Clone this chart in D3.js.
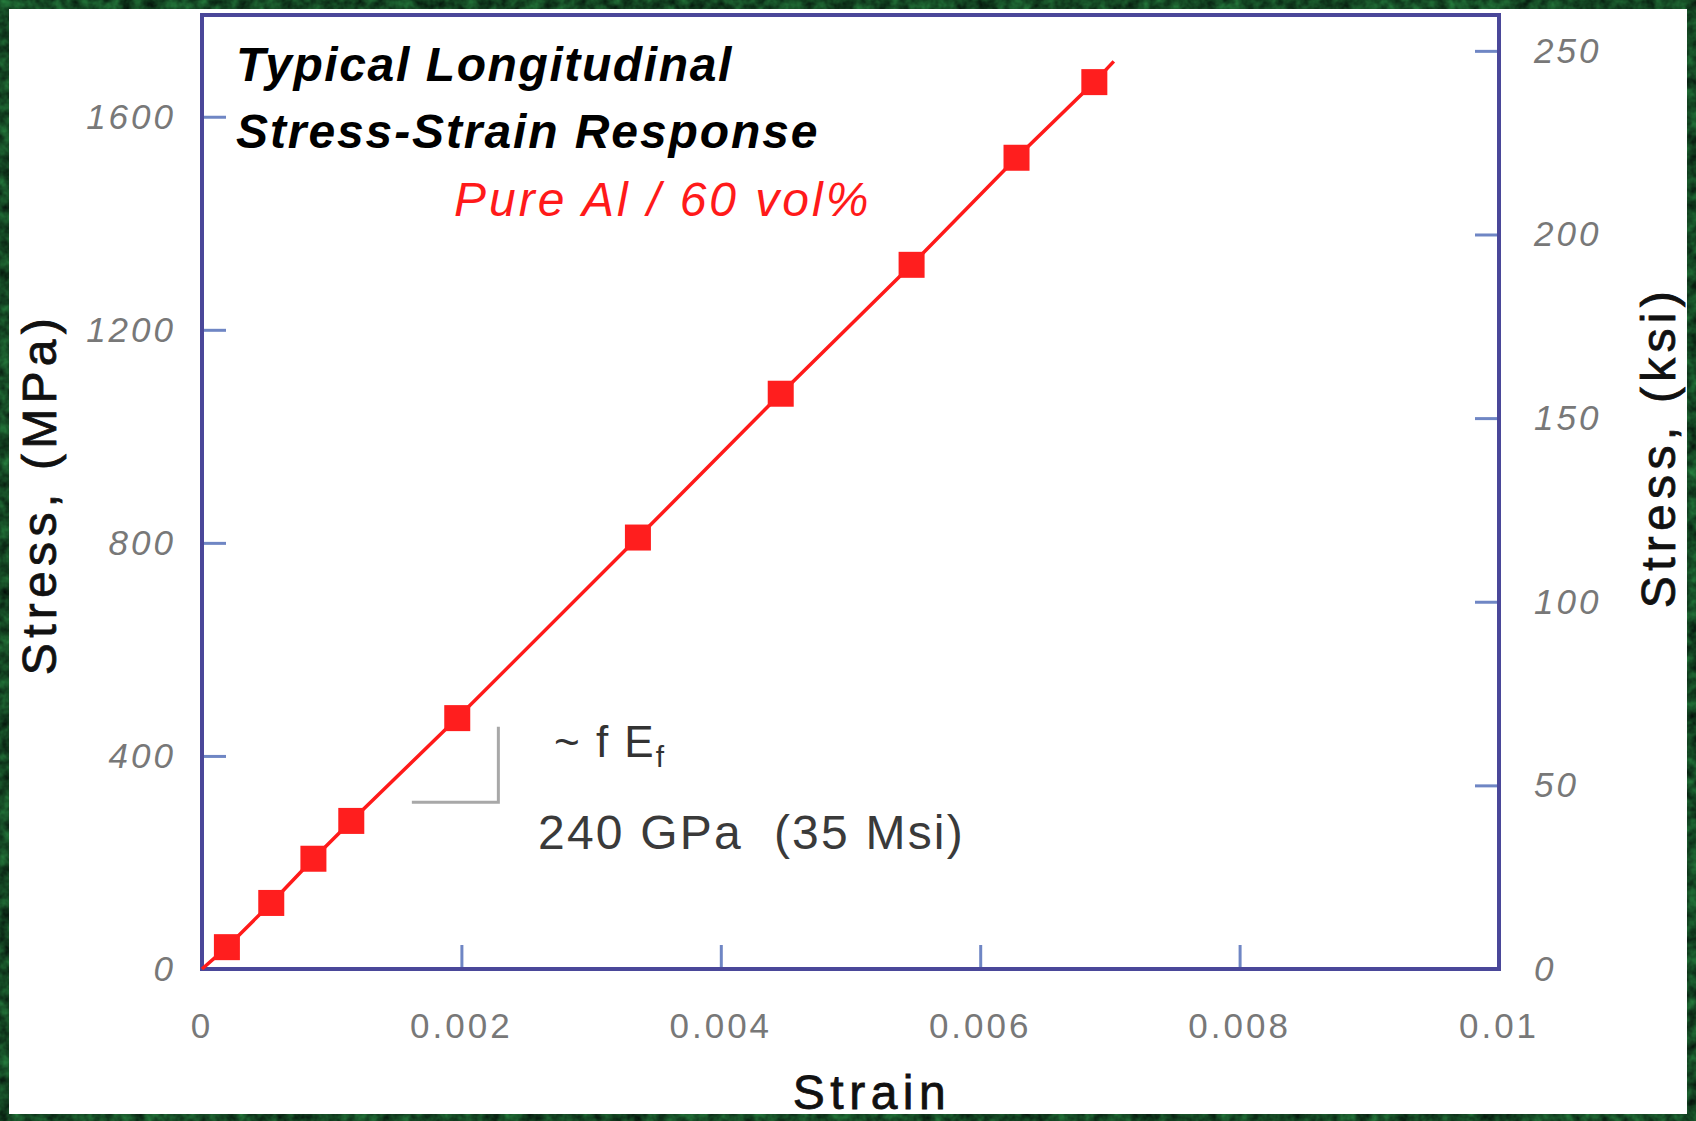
<!DOCTYPE html>
<html><head><meta charset="utf-8">
<script src="https://cdn.jsdelivr.net/npm/d3@7"></script>
<style>body{margin:0;background:#1a4224;} svg{display:block}</style>
</head><body><svg id="c" width="1696" height="1121"></svg>
<script>
// ---- data ----
const strain = [0.000192, 0.000534, 0.000859, 0.001151, 0.001968, 0.003361, 0.004462, 0.005471, 0.00628, 0.00688];
const stress = [41, 124, 207, 278, 471, 810, 1080, 1322, 1523, 1665];
const lineStrain = [0, 0.000192, 0.000534, 0.000859, 0.001151, 0.001968, 0.003361, 0.004462, 0.005471, 0.00628, 0.00688, 0.00703];
const lineStress = [0, 41, 124, 207, 278, 471, 810, 1080, 1322, 1523, 1665, 1704];
const slopeStrain = [0.001618, 0.002285, 0.002285];
const slopeStress = [313, 313, 455];
const xTicks = [0, 0.002, 0.004, 0.006, 0.008, 0.01];
const xTickLabels = ["0", "0.002", "0.004", "0.006", "0.008", "0.01"];
const mpaTicks = [0, 400, 800, 1200, 1600];
const ksiTicks = [0, 50, 100, 150, 200, 250];
const titleLines = ["Typical Longitudinal", "Stress-Strain Response"];
const subtitle = "Pure Al / 60 vol%";
const modulusLabel = "240 GPa  (35 Msi)";
const MPA_PER_KSI = 6.894757;

// ---- layout ----
const W = 1696, H = 1121;
const L = 202, R = 1499, T = 15, B = 969;
const font = "'Liberation Sans', Arial, sans-serif";
const svg = d3.select("#c");

const defs = svg.append("defs");
const f = defs.append("filter").attr("id", "tex").attr("x", 0).attr("y", 0).attr("width", 1).attr("height", 1)
  .attr("color-interpolation-filters", "sRGB");
f.append("feTurbulence").attr("type", "fractalNoise").attr("baseFrequency", 0.09).attr("numOctaves", 3).attr("seed", 5);
f.append("feColorMatrix").attr("type", "matrix")
  .attr("values", "0.16 0 0 0 0  0.5 0 0 0 0.03  0.24 0 0 0 0.02  0 0 0 0 1");
svg.append("rect").attr("width", W).attr("height", H).attr("filter", "url(#tex)");
svg.append("rect").attr("x", 9).attr("y", 9).attr("width", 1678).attr("height", 1105).attr("fill", "#fff");

const yTop = 1791;
const x = d3.scaleLinear().domain([0, 0.01]).range([L, R]);
const y = d3.scaleLinear().domain([0, yTop]).range([B, T]);
const yk = d3.scaleLinear().domain([0, yTop / MPA_PER_KSI]).range([B, T]);

const tickCol = "#6f86c4", labCol = "#787878";

// axes via d3 axis generators (inward ticks)
const gx = svg.append("g").attr("transform", `translate(0,${B})`)
  .call(d3.axisTop(x).tickValues(xTicks).tickSize(24).tickFormat(""));
const gl = svg.append("g").attr("transform", `translate(${L},0)`)
  .call(d3.axisRight(y).tickValues(mpaTicks).tickSize(24).tickFormat(""));
const gr = svg.append("g").attr("transform", `translate(${R},0)`)
  .call(d3.axisLeft(yk).tickValues(ksiTicks).tickSize(24).tickFormat(""));
[gx, gl, gr].forEach(g => {
  g.select(".domain").remove();
  g.selectAll(".tick line").attr("stroke", tickCol).attr("stroke-width", 3);
});

// tick labels
svg.append("g").selectAll("text").data(xTicks).join("text")
  .attr("x", d => x(d)).attr("y", 1038).attr("text-anchor", "middle")
  .attr("font-family", font).attr("font-size", 35).attr("letter-spacing", 3).attr("fill", labCol)
  .text((d, i) => xTickLabels[i]);
svg.append("g").selectAll("text").data(mpaTicks).join("text")
  .attr("x", 176).attr("y", d => y(d) + 12).attr("text-anchor", "end")
  .attr("font-family", font).attr("font-size", 35).attr("font-style", "italic").attr("letter-spacing", 3).attr("fill", labCol)
  .text(d => d);
svg.append("g").selectAll("text").data(ksiTicks).join("text")
  .attr("x", 1534).attr("y", d => yk(d) + 12).attr("text-anchor", "start")
  .attr("font-family", font).attr("font-size", 35).attr("font-style", "italic").attr("letter-spacing", 3).attr("fill", labCol)
  .text(d => d);

// frame
svg.append("rect").attr("x", L).attr("y", T).attr("width", R - L).attr("height", B - T)
  .attr("fill", "none").attr("stroke", "#4a4799").attr("stroke-width", 4);

// slope triangle
svg.append("path")
  .attr("d", d3.line().x((d, i) => x(slopeStrain[i])).y((d, i) => y(slopeStress[i]))(slopeStrain))
  .attr("fill", "none").attr("stroke", "#a8a8a8").attr("stroke-width", 3);

// series line
svg.append("path")
  .attr("d", d3.line().x((d, i) => x(lineStrain[i])).y((d, i) => y(lineStress[i]))(lineStrain))
  .attr("fill", "none").attr("stroke", "#ff1a1a").attr("stroke-width", 3.5);
const s = 26;
svg.append("g").selectAll("rect").data(strain).join("rect")
  .attr("x", (d, i) => x(d) - s / 2).attr("y", (d, i) => y(stress[i]) - s / 2)
  .attr("width", s).attr("height", s).attr("fill", "#ff1e1e");

// titles
svg.append("g").selectAll("text").data(titleLines).join("text")
  .attr("x", 236).attr("y", (d, i) => 81 + i * 67)
  .attr("font-family", font).attr("font-size", 48).attr("font-weight", "bold").attr("font-style", "italic")
  .attr("letter-spacing", (d, i) => i === 0 ? 1.6 : 1.9).attr("fill", "#000").text(d => d);
svg.append("text").attr("x", 454).attr("y", 216)
  .attr("font-family", font).attr("font-size", 48).attr("font-style", "italic")
  .attr("letter-spacing", 3).attr("fill", "#ff1a1a").text(subtitle);

// annotations
const ef = svg.append("text").attr("x", 554).attr("y", 757)
  .attr("font-family", font).attr("font-size", 44).attr("fill", "#333").attr("letter-spacing", 2);
ef.append("tspan").text("~ f E");
ef.append("tspan").attr("font-size", 30).attr("dy", 10).text("f");
svg.append("text").attr("x", 538).attr("y", 849).style("white-space", "pre")
  .attr("font-family", font).attr("font-size", 48).attr("fill", "#3a3a3a").attr("letter-spacing", 2.2)
  .text(modulusLabel);

// axis titles
svg.append("text").attr("x", 872).attr("y", 1109).attr("text-anchor", "middle")
  .attr("font-family", font).attr("font-size", 48).attr("letter-spacing", 5.5)
  .attr("stroke", "#111").attr("stroke-width", 0.8)
  .attr("fill", "#111").text("Strain");
svg.append("text").attr("transform", "translate(56,494) rotate(-90)").attr("text-anchor", "middle")
  .attr("font-family", font).attr("font-size", 48).attr("letter-spacing", 5.3)
  .attr("stroke", "#111").attr("stroke-width", 0.8)
  .attr("fill", "#111").text("Stress, (MPa)");
svg.append("text").attr("transform", "translate(1675,447) rotate(-90)").attr("text-anchor", "middle")
  .attr("font-family", font).attr("font-size", 48).attr("letter-spacing", 5.3)
  .attr("stroke", "#111").attr("stroke-width", 0.8)
  .attr("fill", "#111").text("Stress, (ksi)");
</script></body></html>
